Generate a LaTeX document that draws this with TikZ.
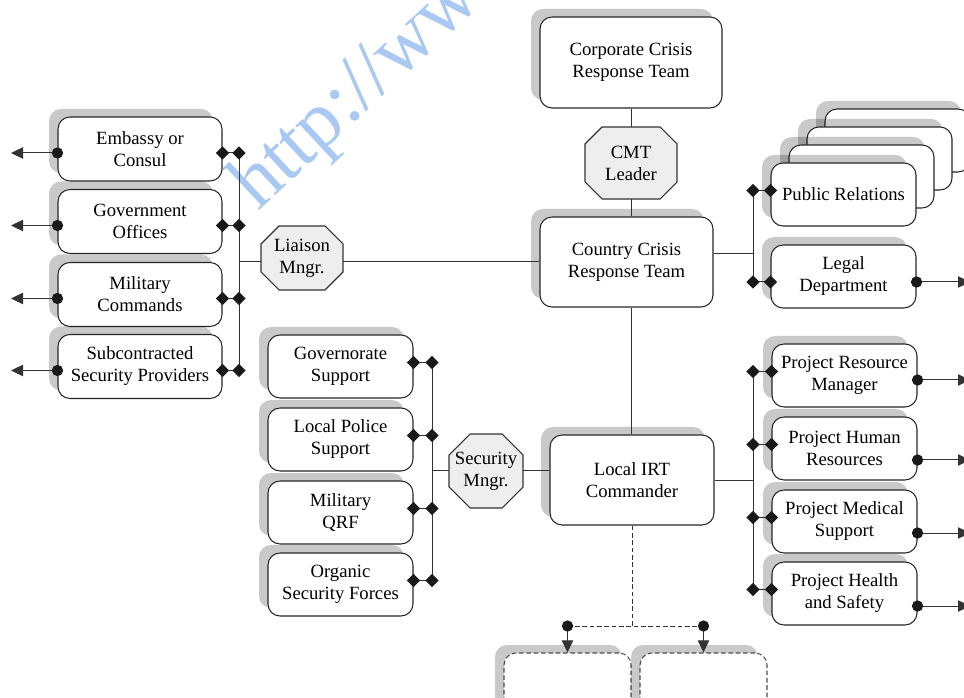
\documentclass[tikz,border=0pt]{standalone}
\usepackage{fontspec}
\setmainfont{Liberation Serif}
\usetikzlibrary{calc,shapes.geometric,shadows,arrows.meta}

\definecolor{linegray}{HTML}{333333}
\definecolor{octfill}{HTML}{EEEEEE}
\definecolor{wmblue}{HTML}{A9C9F2}

\tikzset{
  sz/.style 2 args={minimum width={#1*0.75pt}, minimum height={#2*0.75pt}},
  lbl/.style={align=center, inner sep=0pt, font=\fontsize{14}{16.5}\selectfont},
  box/.style={lbl, draw=black!85, line width=0.8pt, rounded corners=9pt, fill=white,
    general shadow={shadow xshift=-6.75pt, shadow yshift=6pt, fill=black, fill opacity=0.21}},
  dbox/.style={box, draw=black!70, dash pattern=on 3.5pt off 2pt},
  octline/.style={draw=black!80, line width=0.8pt, fill=octfill},
  octtext/.style={lbl, draw=none},
  conn/.style={draw=linegray, line width=0.75pt},
  dconn/.style={conn, dash pattern=on 3.5pt off 2pt},
  tip/.style={-{Triangle[length=9pt, width=8.5pt]}},
  diam/.style={diamond, fill=black!90, inner sep=0pt, minimum width=10pt, minimum height=10pt},
  dot/.style={circle, fill=black!90, inner sep=0pt, minimum size=8.5pt},
  wm/.style={text=wmblue, font=\fontsize{60}{60}\selectfont, inner sep=0pt}
}

% octagon: name, centre x, centre y, half width, half height, chamfer, text
\newcommand\octagonbox[7]{%
  \filldraw[octline] (#2-#4,#3-#5+#6) -- (#2-#4+#6,#3-#5) -- (#2+#4-#6,#3-#5) -- (#2+#4,#3-#5+#6)
    -- (#2+#4,#3+#5-#6) -- (#2+#4-#6,#3+#5) -- (#2-#4+#6,#3+#5) -- (#2-#4,#3+#5-#6) -- cycle;
  \node[octtext, sz={2*#4}{2*#5}] (#1) at (#2,#3) {#7};
}

\begin{document}
\begin{tikzpicture}[x=0.75pt, y=-0.75pt]
\useasboundingbox (0,0) rectangle (964,698);
\clip (0,0) rectangle (964,698);

% watermark
\node[wm, rotate=43, anchor=base west] (wmark) at (258,212) {http://www.};

% central chain
\node[box, sz={182}{91}] (corp) at (631,62.5) {Corporate Crisis\\Response Team};
\octagonbox{cmt}{631}{163}{46}{36}{17}{CMT\\Leader}
\node[box, sz={173}{90}] (ctry) at (626.5,262) {Country Crisis\\Response Team};
\node[box, sz={164}{90}] (irt) at (632,480) {Local IRT\\Commander};

\draw[conn] (corp.south) -- (cmt.north);
\draw[conn] (cmt.south) -- (cmt.south |- ctry.north);
\draw[conn] (cmt.south |- ctry.south) -- (cmt.south |- irt.north);

% liaison group
\node[box, sz={164}{64}] (emb) at (140,149) {Embassy or\\Consul};
\node[box, sz={164}{64}] (gov) at (140,221.5) {Government\\Offices};
\node[box, sz={164}{64}] (mil) at (140,294.5) {Military\\Commands};
\node[box, sz={164}{64}] (sub) at (140,366.5) {Subcontracted\\Security Providers};
\octagonbox{lia}{302}{258}{41}{32}{18}{Liaison\\Mngr.}

\coordinate (lbus) at (239,0);
\coordinate (lout) at (11,0);
\foreach \b in {emb,gov,mil,sub} {
  \coordinate (\b-r) at ($(\b.east)+(0,4)$);
  \coordinate (\b-l) at ($(\b.west)+(0,4)$);
  \draw[conn] (\b-r) -- (\b-r -| lbus);
  \draw[conn, tip] (\b-l) -- (\b-l -| lout);
}
\draw[conn] (emb-r -| lbus) -- (sub-r -| lbus);
\draw[conn] (lbus |- ctry.west) -- (lia.west |- ctry.west);
\draw[conn] (lia.east |- ctry.west) -- (ctry.west);
\foreach \b in {emb,gov,mil,sub} {
  \node[diam] (\b-d1) at (\b-r) {};
  \node[diam] (\b-d2) at (\b-r -| lbus) {};
  \node[dot] (\b-c) at (\b-l) {};
}

% security group
\node[box, sz={145}{63}] (gvs) at (340.5,366.5) {Governorate\\Support};
\node[box, sz={145}{63}] (lps) at (340.5,439.5) {Local Police\\Support};
\node[box, sz={145}{63}] (qrf) at (340.5,512.5) {Military\\QRF};
\node[box, sz={145}{63}] (osf) at (340.5,584.5) {Organic\\Security Forces};
\octagonbox{sec}{486}{471}{37}{37}{21}{Security\\Mngr.}

\coordinate (sbus) at (432,0);
\foreach \b in {gvs,lps,qrf,osf} {
  \coordinate (\b-r) at ($(\b.east)+(0,-4)$);
  \draw[conn] (\b-r) -- (\b-r -| sbus);
}
\draw[conn] (gvs-r -| sbus) -- (osf-r -| sbus);
\draw[conn] (sbus |- sec.west) -- (sec.west);
\draw[conn] (sec.east) -- (sec.east -| irt.west);
\foreach \b in {gvs,lps,qrf,osf} {
  \node[diam] (\b-d1) at (\b-r) {};
  \node[diam] (\b-d2) at (\b-r -| sbus) {};
}

% upper right group
\node[box, sz={145}{63}] (pr3) at (897.5,140.5) {};
\node[box, sz={145}{63}] (pr2) at (879.5,158.5) {};
\node[box, sz={145}{63}] (pr1) at (861.5,176.5) {};
\node[box, sz={145}{63}] (pr) at (843.5,194.5) {Public Relations};
\node[box, sz={145}{63}] (legal) at (843.5,276.5) {Legal\\Department};

\coordinate (rbus) at (753,0);
\coordinate (rout) at (970,0);
\coordinate (pr-l) at ($(pr.west)+(0,-4)$);
\coordinate (legal-l) at ($(legal.west)+(0,5.5)$);
\coordinate (legal-r) at ($(legal.east)+(0,5.5)$);
\coordinate (cj) at ($(ctry.east)+(0,-8)$);
\draw[conn] (pr-l) -- (pr-l -| rbus);
\draw[conn] (legal-l) -- (legal-l -| rbus);
\draw[conn] (pr-l -| rbus) -- (legal-l -| rbus);
\draw[conn] (cj) -- (cj -| rbus);
\draw[conn, tip] (legal-r) -- (legal-r -| rout);
\foreach \b in {pr,legal} {
  \node[diam] (\b-d1) at (\b-l) {};
  \node[diam] (\b-d2) at (\b-l -| rbus) {};
}
\node[dot] (legal-c) at (legal-r) {};

% lower right group
\node[box, sz={145}{63}] (res) at (844.5,375.5) {Project Resource\\Manager};
\node[box, sz={145}{63}] (hum) at (844.5,448.5) {Project Human\\Resources};
\node[box, sz={145}{63}] (med) at (844.5,521.5) {Project Medical\\Support};
\node[box, sz={145}{63}] (hsf) at (844.5,593.5) {Project Health\\and Safety};

\foreach \b/\o in {res/4.5, hum/11.5, med/11.5, hsf/12.5} {
  \coordinate (\b-l) at ($(\b.west)+(0,-4)$);
  \coordinate (\b-r) at ($(\b.east)+(0,\o)$);
  \draw[conn] (\b-l) -- (\b-l -| rbus);
  \draw[conn, tip] (\b-r) -- (\b-r -| rout);
}
\draw[conn] (irt.east) -- (irt.east -| rbus);
\draw[conn] (res-l -| rbus) -- (hsf-l -| rbus);
\foreach \b in {res,hum,med,hsf} {
  \node[diam] (\b-d1) at (\b-l) {};
  \node[diam] (\b-d2) at (\b-l -| rbus) {};
  \node[dot] (\b-c) at (\b-r) {};
}

% dashed units below the commander
\node[dbox, sz={127}{63}] (dl) at (567.5,684.5) {};
\node[dbox, sz={127}{63}] (dr) at (703.5,684.5) {};
\coordinate (dj) at (632,626);
\draw[dconn] (irt.south) -- (irt.south |- dj);
\draw[dconn] (dl.north |- dj) -- (dr.north |- dj);
\draw[conn, tip] (dl.north |- dj) -- (dl.north);
\draw[conn, tip] (dr.north |- dj) -- (dr.north);
\node[dot] (dl-c) at (dl.north |- dj) {};
\node[dot] (dr-c) at (dr.north |- dj) {};
\end{tikzpicture}
\end{document}
